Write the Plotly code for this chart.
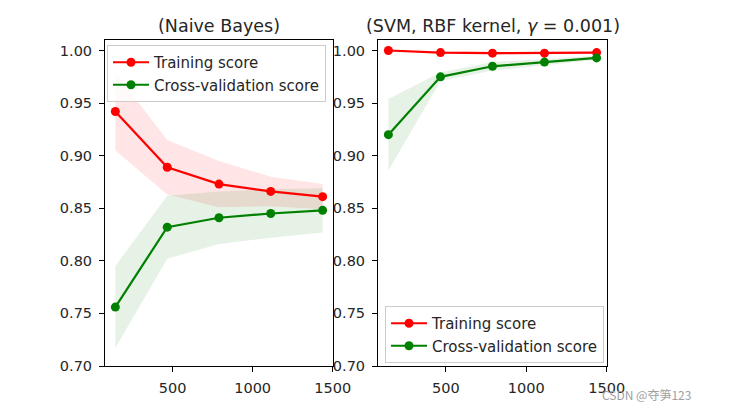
import plotly.graph_objects as go

train_sizes = [143, 467, 790, 1113, 1437]

nb_train_mean = [0.942, 0.889, 0.873, 0.866, 0.861]
nb_train_std = [0.037, 0.026, 0.022, 0.014, 0.012]
nb_cv_mean = [0.756, 0.832, 0.841, 0.845, 0.848]
nb_cv_std = [0.039, 0.030, 0.025, 0.023, 0.021]

svm_train_mean = [1.000, 0.998, 0.9975, 0.9975, 0.998]
svm_train_std = [0.0005, 0.001, 0.001, 0.001, 0.001]
svm_cv_mean = [0.920, 0.975, 0.985, 0.989, 0.993]
svm_cv_std = [0.034, 0.004, 0.004, 0.003, 0.002]

titles = ["(Naive Bayes)", "(SVM, RBF kernel, <i>γ</i> = 0.001)"]
y_ticks = [0.70, 0.75, 0.80, 0.85, 0.90, 0.95, 1.00]
x_ticks = [500, 1000, 1500]

RED = "#ff0000"
GREEN = "#008000"
RED_FILL = "rgba(255,0,0,0.1)"
GREEN_FILL = "rgba(0,128,0,0.1)"
FONT = "DejaVu Sans, sans-serif"
TXT = "#262626"

# page has an 8px body margin; figure fills the rest of the 732x415 window
PAGE_W, PAGE_H, BODY = 732, 415, 8
W, H = PAGE_W - 2 * BODY, PAGE_H - 2 * BODY


def px(X):
    return (X - BODY) / W


def py(Y):
    return 1 - (Y - BODY) / H


fig = go.Figure()


def add_panel(xa, ya, legend, tm, ts, cm, cs):
    up = [m + s for m, s in zip(tm, ts)]
    lo = [m - s for m, s in zip(tm, ts)]
    fig.add_trace(go.Scatter(x=train_sizes, y=up, mode="lines", line=dict(width=0),
                             xaxis=xa, yaxis=ya, showlegend=False, hoverinfo="skip"))
    fig.add_trace(go.Scatter(x=train_sizes, y=lo, mode="lines", line=dict(width=0),
                             fill="tonexty", fillcolor=RED_FILL,
                             xaxis=xa, yaxis=ya, showlegend=False, hoverinfo="skip"))
    up = [m + s for m, s in zip(cm, cs)]
    lo = [m - s for m, s in zip(cm, cs)]
    fig.add_trace(go.Scatter(x=train_sizes, y=up, mode="lines", line=dict(width=0),
                             xaxis=xa, yaxis=ya, showlegend=False, hoverinfo="skip"))
    fig.add_trace(go.Scatter(x=train_sizes, y=lo, mode="lines", line=dict(width=0),
                             fill="tonexty", fillcolor=GREEN_FILL,
                             xaxis=xa, yaxis=ya, showlegend=False, hoverinfo="skip"))
    fig.add_trace(go.Scatter(x=train_sizes, y=tm, mode="lines+markers", name="Training score",
                             line=dict(color=RED, width=2.2), marker=dict(color=RED, size=9),
                             xaxis=xa, yaxis=ya, legend=legend))
    fig.add_trace(go.Scatter(x=train_sizes, y=cm, mode="lines+markers", name="Cross-validation score",
                             line=dict(color=GREEN, width=2.2), marker=dict(color=GREEN, size=9),
                             xaxis=xa, yaxis=ya, legend=legend))


add_panel("x", "y", "legend", nb_train_mean, nb_train_std, nb_cv_mean, nb_cv_std)
add_panel("x2", "y2", "legend2", svm_train_mean, svm_train_std, svm_cv_mean, svm_cv_std)

ydom = [py(366), py(40)]

axis_common = dict(showline=True, linecolor="black", linewidth=1, mirror=True,
                   ticks="outside", ticklen=5, tickcolor="black", showgrid=False,
                   zeroline=False, ticklabelstandoff=4,
                   tickfont=dict(family=FONT, size=14.5, color=TXT))

legend_common = dict(xanchor="left", yanchor="top", traceorder="normal",
                     bgcolor="rgba(255,255,255,0.8)", bordercolor="#cccccc", borderwidth=1,
                     font=dict(family=FONT, size=15, color=TXT), itemwidth=36, tracegroupgap=0)

fig.update_layout(
    width=W, height=H, margin=dict(l=0, r=0, t=0, b=0, autoexpand=False),
    paper_bgcolor="white", plot_bgcolor="white",
    font=dict(family=FONT, color=TXT),
    xaxis=dict(domain=[px(105), px(333)], range=[78.5, 1501.7], tickvals=x_ticks, anchor="y", **axis_common),
    yaxis=dict(domain=ydom, range=[0.70, 1.01], tickvals=y_ticks, tickformat=".2f", anchor="x", **axis_common),
    xaxis2=dict(domain=[px(378), px(607)], range=[78.5, 1501.7], tickvals=x_ticks, anchor="y2", **axis_common),
    yaxis2=dict(domain=ydom, range=[0.70, 1.01], tickvals=y_ticks, tickformat=".2f", anchor="x2", **axis_common),
    legend=dict(x=px(107), y=py(45), **legend_common),
    legend2=dict(x=px(385), y=py(306), **legend_common),
    annotations=[
        dict(text=titles[0], x=px(219), y=py(25.5), xref="paper", yref="paper",
             xanchor="center", yanchor="middle",
             showarrow=False, font=dict(family=FONT, size=17.5, color=TXT)),
        dict(text=titles[1], x=px(493), y=py(25.5), xref="paper", yref="paper",
             xanchor="center", yanchor="middle",
             showarrow=False, font=dict(family=FONT, size=17.5, color=TXT)),
        dict(text="CSDN @夺笋123", x=px(646), y=py(394), xref="paper", yref="paper",
             xanchor="center", yanchor="middle",
             showarrow=False, font=dict(family="Noto Sans CJK SC, sans-serif", size=12, color="#a0a0a0")),
    ],
)

fig.write_html("out.html")
